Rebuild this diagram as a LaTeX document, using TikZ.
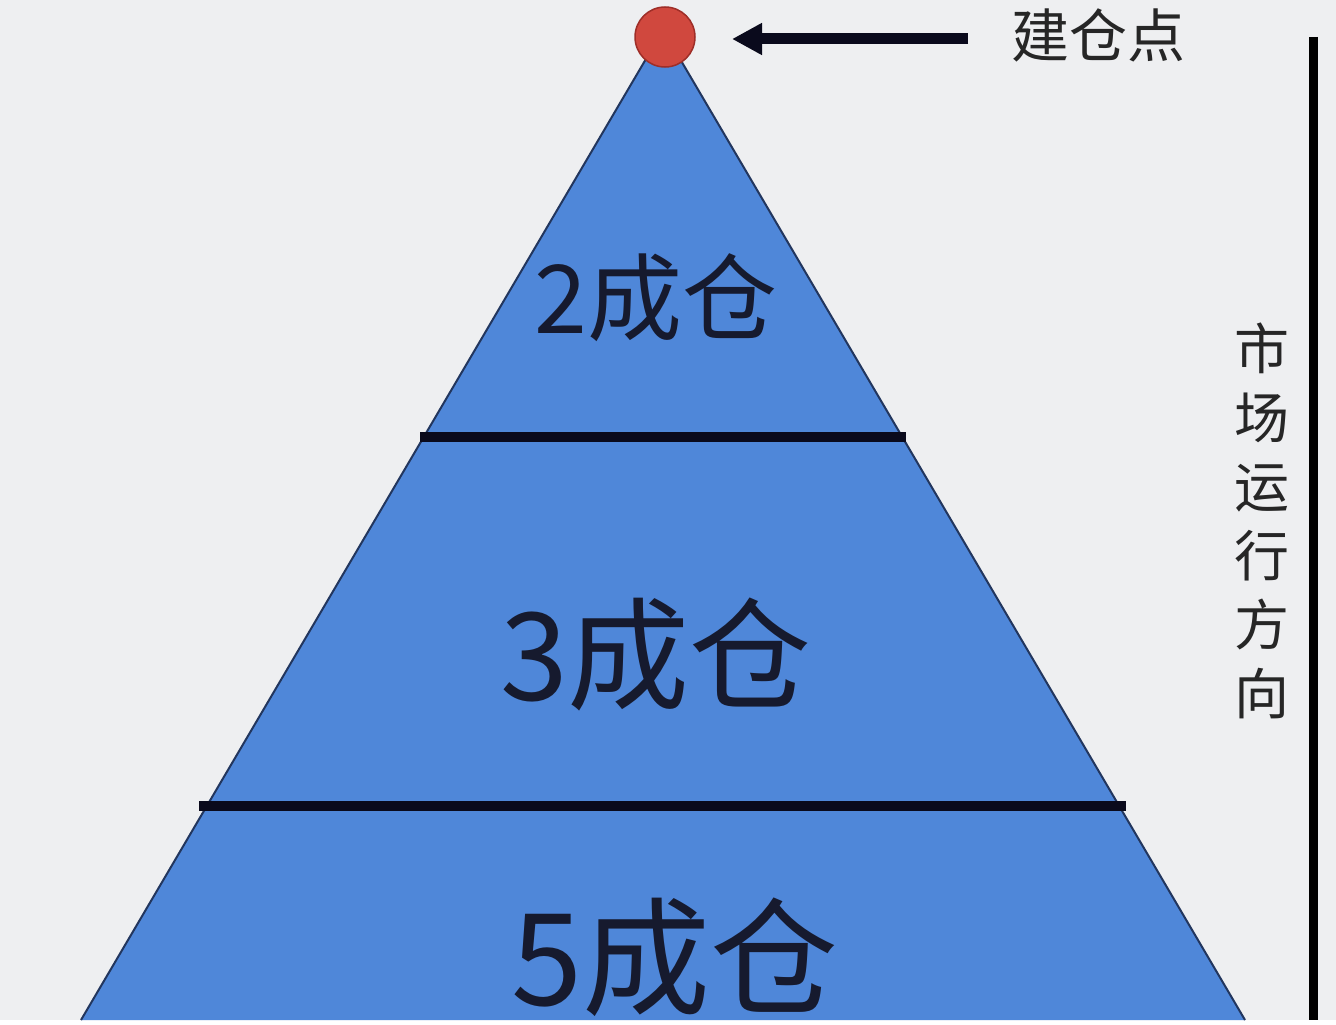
\documentclass[tikz,border=0pt]{standalone}
\usepackage{fontspec}
\setmainfont{Noto Sans CJK SC}
\usetikzlibrary{arrows.meta}
\definecolor{bggray}{HTML}{EEEFF1}
\definecolor{pyrblue}{HTML}{4F87D9}
\definecolor{pyredge}{HTML}{22365E}
\definecolor{bardark}{HTML}{0A0A1C}
\definecolor{txtdark}{HTML}{161A2E}
\definecolor{dotred}{HTML}{D0483E}
\definecolor{dotedge}{HTML}{9E2E28}
\tikzset{
  bar/.style={draw=bardark, line width=10pt},
  lvltext/.style={text=txtdark, inner sep=0pt, anchor=base},
  sidetext/.style={text=black!85, inner sep=0pt},
}
\begin{document}
\begin{tikzpicture}[x=1pt,y=-1pt]
\useasboundingbox (0,0) rectangle (1336,1025);
\fill[bggray] (0,0) rectangle (1336,1020);
\fill[white] (0,1020) rectangle (1336,1025);
% pyramid
\coordinate (apex) at (663,30);
\coordinate (bl) at (81,1020);
\coordinate (br) at (1245,1020);
\begin{scope}
\clip (0,0) rectangle (1336,1020);
\fill[pyrblue] (apex) -- (bl) -- (br) -- cycle;
\draw[pyredge, line width=2pt] (bl) -- (apex) -- (br);
\end{scope}
% level bars
\coordinate (b1l) at (420,437);
\coordinate (b1r) at (906,437);
\coordinate (b2l) at (199,806);
\coordinate (b2r) at (1126,806);
\draw[bar] (b1l) -- (b1r);
\draw[bar] (b2l) -- (b2r);
% level texts
\node[lvltext, font=\fontsize{95}{95}\selectfont] (t2) at (656,333) {2成仓};
\node[lvltext, font=\fontsize{122}{122}\selectfont] (t3) at (656,700) {3成仓};
\node[lvltext, font=\fontsize{128}{128}\selectfont] (t5) at (675,1005) {5成仓};
% entry point
\node[circle, fill=dotred, draw=dotedge, line width=1.5pt, minimum size=60pt, inner sep=0pt] (dot) at (665,37) {};
\node[sidetext, anchor=base, font=\fontsize{58}{58}\selectfont] (entry) at (1098,58) {建仓点};
\coordinate (arrstart) at (968,39);
\coordinate (arrtip) at (732,39);
\draw[bardark, line width=11pt, -{Triangle[length=30pt,width=30pt]}] (arrstart) -- (arrtip);
% market direction
\coordinate (vtop) at (1313,37);
\coordinate (vbot) at (1313,1020);
\draw[black, line width=9pt] (vtop) -- (vbot);
\node[sidetext, align=center, font=\fontsize{55}{69}\selectfont] (dir) at (1262,521) {市\\场\\运\\行\\方\\向};
\end{tikzpicture}
\end{document}
